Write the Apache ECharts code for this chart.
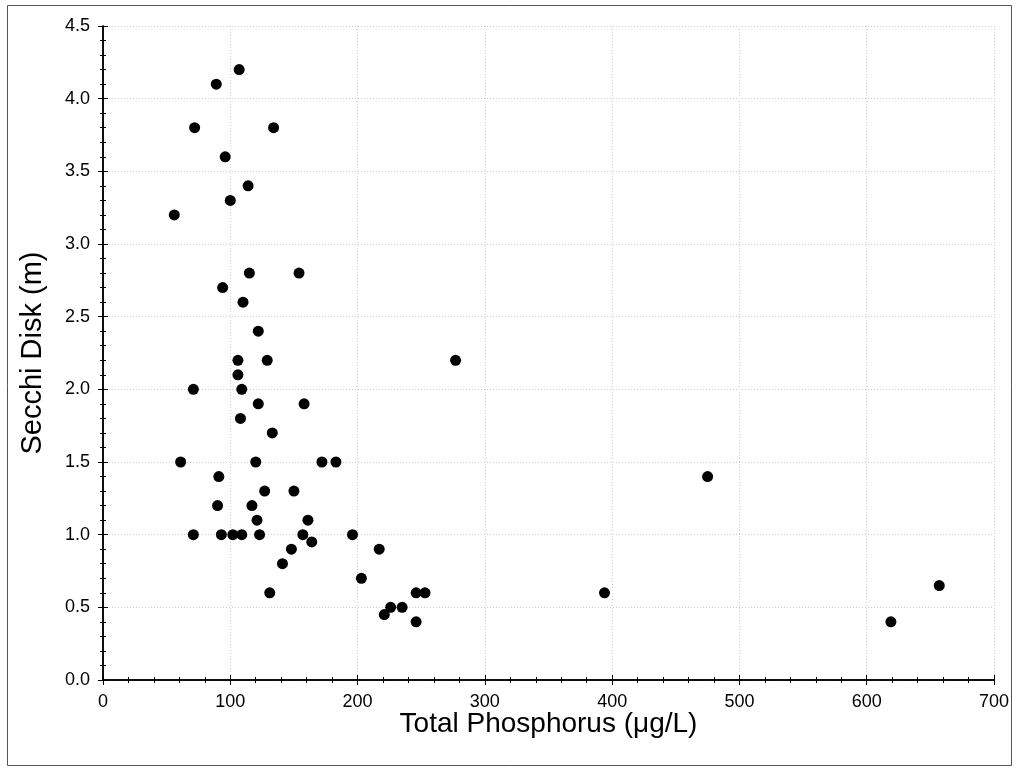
<!DOCTYPE html>
<html>
<head>
<meta charset="utf-8">
<script src="https://cdn.jsdelivr.net/npm/echarts@6/dist/echarts.min.js"></script>
<style>
  html, body { margin: 0; padding: 0; background: #fff; }
  #chart { width: 1016px; height: 770px; }
</style>
</head>
<body>
<div id="chart"></div>
<script>
// total phosphorus (ug/L) and secchi depth (m)
const phosphorus = [
  56, 89, 107, 72, 134, 96, 114, 100, 115, 154,
  94, 110, 122, 106, 129, 106, 71, 109, 122, 158,
  108, 133, 61, 120, 172, 183, 91, 127, 150, 90,
  117, 121, 161, 71, 93, 102, 109, 123, 157, 196,
  164, 148, 217, 141, 203, 131, 246, 253, 221, 226,
  235, 246, 277, 394, 475, 619, 657
]
const secchi = [
  3.2, 4.1, 4.2, 3.8, 3.8, 3.6, 3.4, 3.3, 2.8, 2.8,
  2.7, 2.6, 2.4, 2.2, 2.2, 2.1, 2.0, 2.0, 1.9, 1.9,
  1.8, 1.7, 1.5, 1.5, 1.5, 1.5, 1.4, 1.3, 1.3, 1.2,
  1.2, 1.1, 1.1, 1.0, 1.0, 1.0, 1.0, 1.0, 1.0, 1.0,
  0.95, 0.9, 0.9, 0.8, 0.7, 0.6, 0.6, 0.6, 0.45, 0.5,
  0.5, 0.4, 2.2, 0.6, 1.4, 0.4, 0.65
]

const xTitle = 'Total Phosphorus (μg/L)'
const yTitle = 'Secchi Disk (m)'

const FONT = '"Liberation Sans", Arial, sans-serif'

const chart = echarts.init(document.getElementById('chart'), null, { renderer: 'canvas' })

// top/right axes only carry the inward ticks of the frame
const frameAxis = {
  axisLine: { show: true, lineStyle: { color: '#000', width: 1.5 } },
  axisTick: { show: true, inside: true, length: 5, lineStyle: { color: '#000', width: 1 } },
  minorTick: { show: true, splitNumber: 5, length: 3, lineStyle: { color: '#000', width: 1 } },
  splitLine: { show: false },
  axisLabel: { show: false },
}

chart.setOption({
  animation: false,
  backgroundColor: '#fff',
  graphic: [{
    type: 'rect',
    shape: { x: 7.5, y: 5.5, width: 1004, height: 760 },
    style: { fill: 'none', stroke: '#555', lineWidth: 1 },
    silent: true,
  }],
  grid: { left: 103, right: 22, top: 26, bottom: 90 },
  xAxis: [{
    type: 'value',
    position: 'bottom',
    min: 0, max: 700, interval: 100,
    name: xTitle,
    nameLocation: 'middle',
    nameGap: 30,
    nameMoveOverlap: false,
    nameTextStyle: { fontFamily: FONT, fontSize: 28, color: '#000' },
    axisLine: { show: true, onZero: false, lineStyle: { color: '#000', width: 1.5 } },
    axisTick: { show: true, inside: true, length: 5, lineStyle: { color: '#000', width: 1 } },
    minorTick: { show: true, splitNumber: 5, length: 3, lineStyle: { color: '#000', width: 1 } },
    axisLabel: { fontFamily: FONT, fontSize: 18, color: '#000', margin: 13 },
    splitLine: { show: true, lineStyle: { color: '#cfcfcf', type: [1, 2], width: 1 } },
  }, Object.assign({ type: 'value', position: 'top', min: 0, max: 700, interval: 100 }, frameAxis)],
  yAxis: [{
    type: 'value',
    position: 'left',
    min: 0, max: 4.5, interval: 0.5,
    name: yTitle,
    nameLocation: 'middle',
    nameGap: 56,
    nameMoveOverlap: false,
    nameRotate: 90,
    nameTextStyle: { fontFamily: FONT, fontSize: 29, color: '#000' },
    axisLine: { show: true, onZero: false, lineStyle: { color: '#000', width: 1.5 } },
    axisTick: { show: true, inside: true, length: 5, lineStyle: { color: '#000', width: 1 } },
    minorTick: { show: true, splitNumber: 5, length: 3, lineStyle: { color: '#000', width: 1 } },
    axisLabel: { fontFamily: FONT, fontSize: 18, color: '#000', margin: 13, formatter: v => v.toFixed(1) },
    splitLine: { show: true, lineStyle: { color: '#cfcfcf', type: [1, 2], width: 1 } },
  }, Object.assign({ type: 'value', position: 'right', min: 0, max: 4.5, interval: 0.5 }, frameAxis)],
  series: [{
    type: 'scatter',
    xAxisIndex: 0,
    yAxisIndex: 0,
    symbol: 'circle',
    symbolSize: 11,
    itemStyle: { color: '#000', opacity: 1 },
    data: phosphorus.map((x, i) => [x, secchi[i]]),
  }],
})
</script>
</body>
</html>
